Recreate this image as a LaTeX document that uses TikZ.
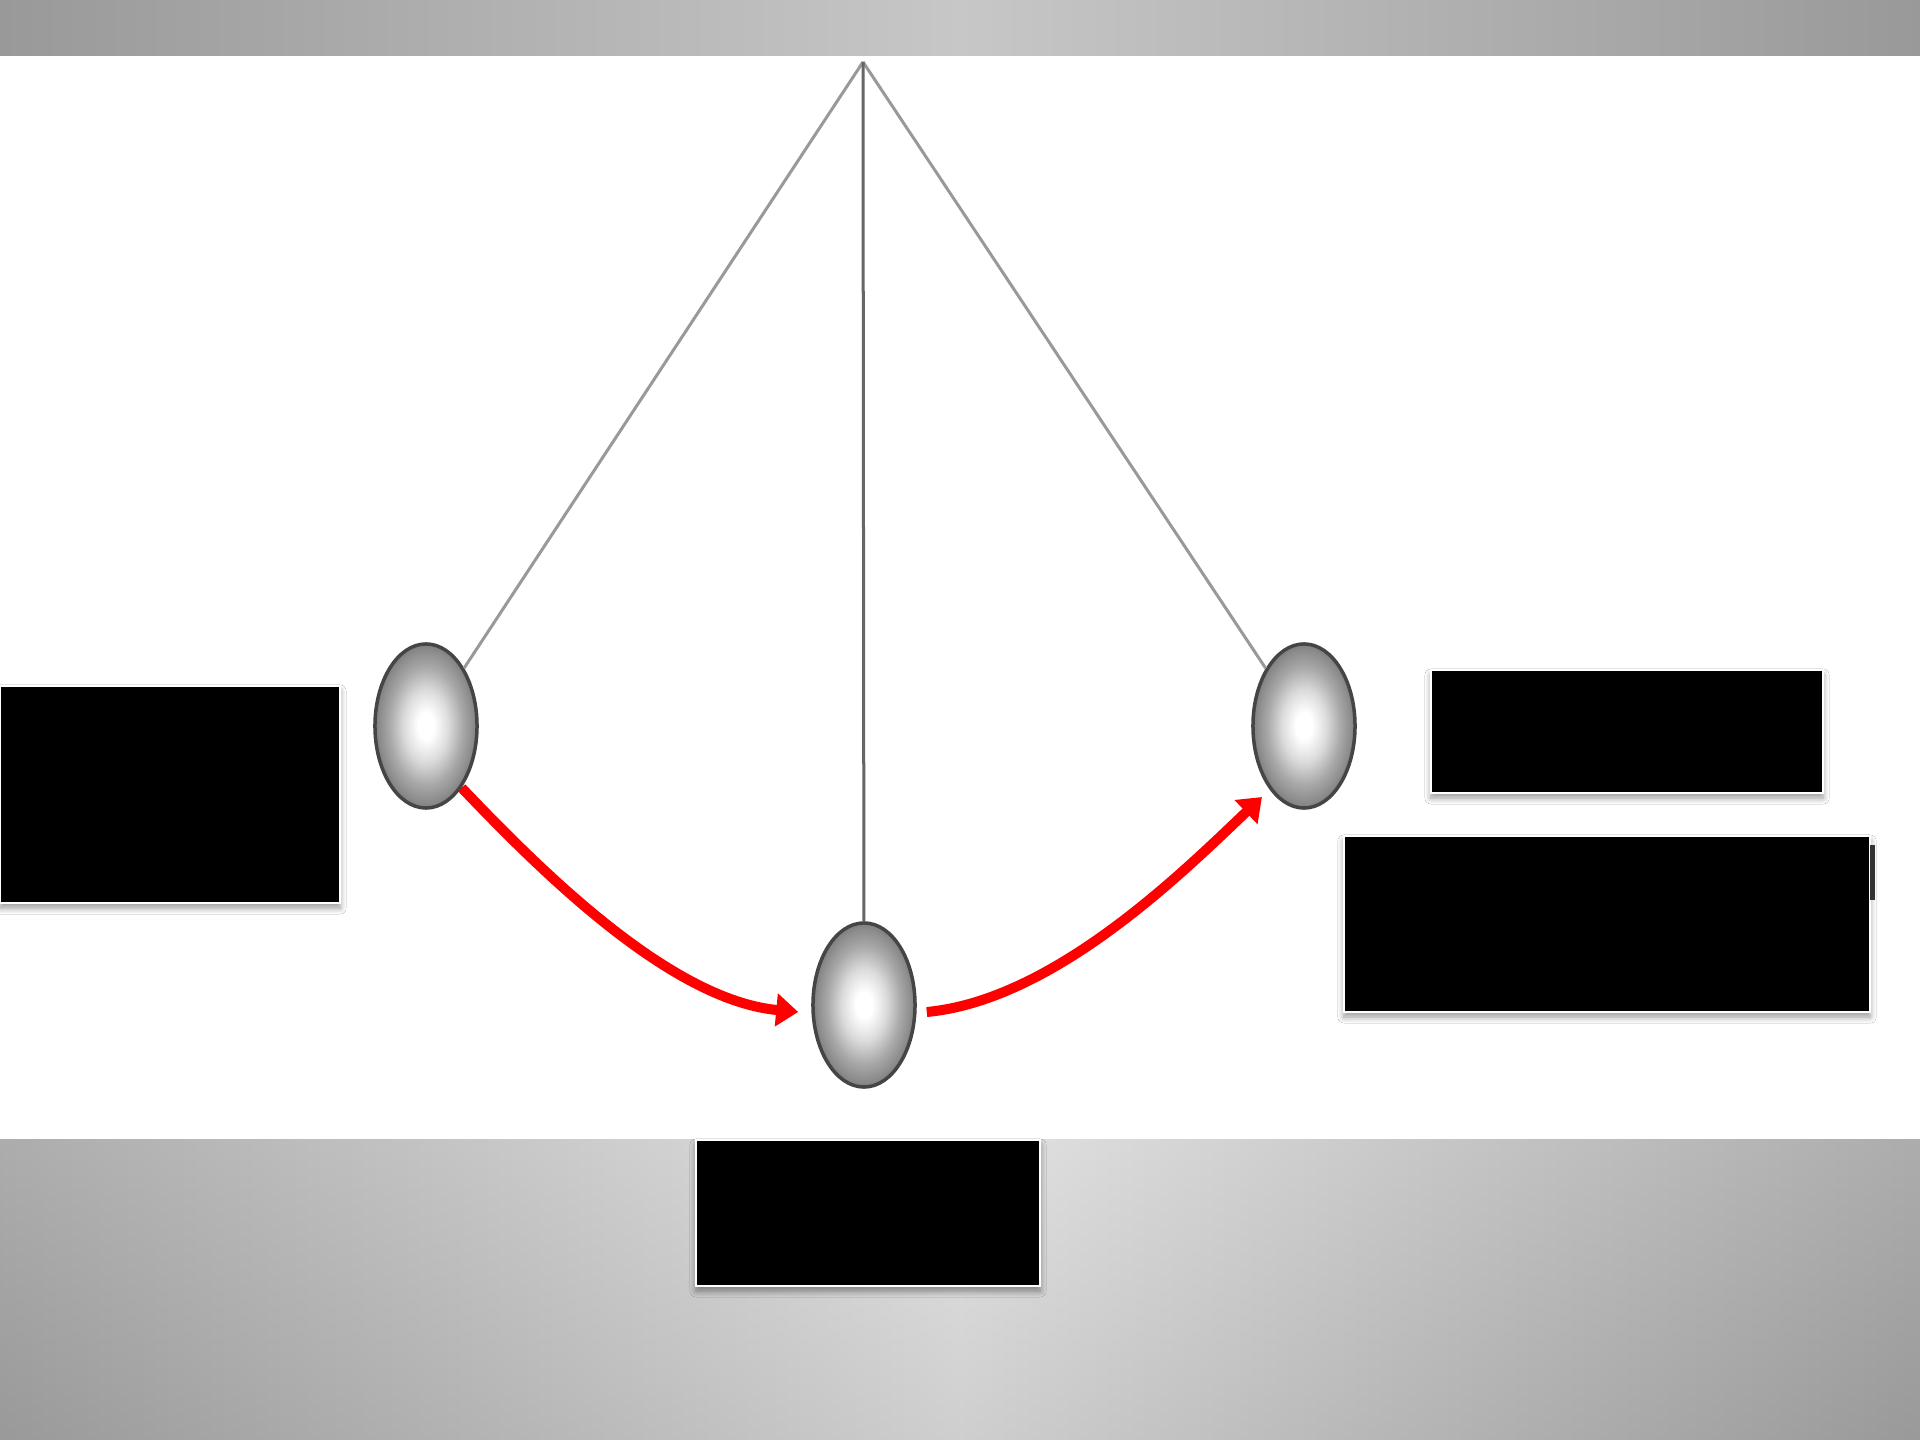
\documentclass[tikz,border=0pt]{standalone}
\usetikzlibrary{arrows.meta,shadows.blur,shapes.geometric}
\definecolor{barE}{gray}{0.60}
\definecolor{barM}{gray}{0.78}
\definecolor{flE}{gray}{0.57}
\definecolor{flQ}{gray}{0.70}
\definecolor{flM}{gray}{0.85}
\definecolor{ballA}{gray}{0.86}
\definecolor{ballmid}{gray}{0.66}
\definecolor{balledge}{gray}{0.55}
\definecolor{ballline}{gray}{0.27}
\definecolor{strlight}{gray}{0.60}
\definecolor{strdark}{gray}{0.40}
\pgfdeclarehorizontalshading{floorshade}{100bp}{color(0bp)=(flE); color(25bp)=(flE); color(37bp)=(flQ); color(50bp)=(flM); color(63bp)=(flQ); color(75bp)=(flE); color(100bp)=(flE)}
\pgfdeclareradialshading{ballshade}{\pgfpoint{0bp}{0bp}}{color(0bp)=(white); color(4bp)=(white); color(11bp)=(ballA); color(18bp)=(ballmid); color(23bp)=(balledge); color(25bp)=(balledge!90!black); color(50bp)=(balledge!90!black)}
\begin{document}
\begin{tikzpicture}[x=0.01cm,y=-0.01cm,
  ball/.style={ellipse, minimum width=1.02cm, minimum height=1.64cm, inner sep=0pt,
    draw=ballline, line width=0.035cm, shade, shading=ballshade},
  blackbox/.style={rectangle, fill=black, draw=white, line width=0.025cm, inner sep=0pt,
    blur shadow={shadow xshift=0cm, shadow yshift=-0.05cm, shadow blur radius=0.06cm, shadow blur steps=6, shadow opacity=40}},
  string/.style={line width=0.03cm, draw=strlight},
  swing/.style={draw=red, line width=0.1cm, -{Triangle[length=0.22cm,width=0.32cm]}}
]
\useasboundingbox (0,0) rectangle (1920,1440);
\fill[white] (0,0) rectangle (1920,1440);
% top bar
\shade[left color=barE, right color=barE, middle color=barM] (0,0) rectangle (1920,56);
% floor
\shade[shading=floorshade] (0,1140) rectangle (1920,1440);
\shade[top color=white, bottom color=gray!60, opacity=0.25] (0,1140) rectangle (1920,1440);

% pivot and balls
\coordinate (pivot) at (863,62);
\node[ball] (lball) at (426,726) {};
\node[ball] (cball) at (864,1005) {};
\node[ball] (rball) at (1304,726) {};

% strings
\draw[string] (pivot) -- (lball);
\draw[string] (pivot) -- (rball);
\draw[string, draw=strdark] (pivot) -- (cball);

% swing arrows
\draw[swing] (lball.-60) .. controls (540,870) and (670,1000) .. ([xshift=-0.13cm,yshift=-0.07cm]cball.west);
\draw[swing] ([xshift=0.1cm,yshift=-0.07cm]cball.east) .. controls (1055,1000) and (1185,870) .. ([shift={(-0.42cm,-0.71cm)}]rball.center);

% label boxes (redacted)
\node[blackbox, minimum width=3.40cm, minimum height=2.17cm] (leftbox) at (170,794.5) {};
\node[blackbox, minimum width=3.92cm, minimum height=1.23cm] (rtbox) at (1627,731.5) {};
\node[blackbox, minimum width=5.26cm, minimum height=1.76cm] (rbbox) at (1607,924) {};
\node[blackbox, minimum width=3.44cm, minimum height=1.46cm] (botbox) at (868,1213) {};
\fill[gray!40!black] (1870,845) rectangle (1875,900);
\end{tikzpicture}
\end{document}
